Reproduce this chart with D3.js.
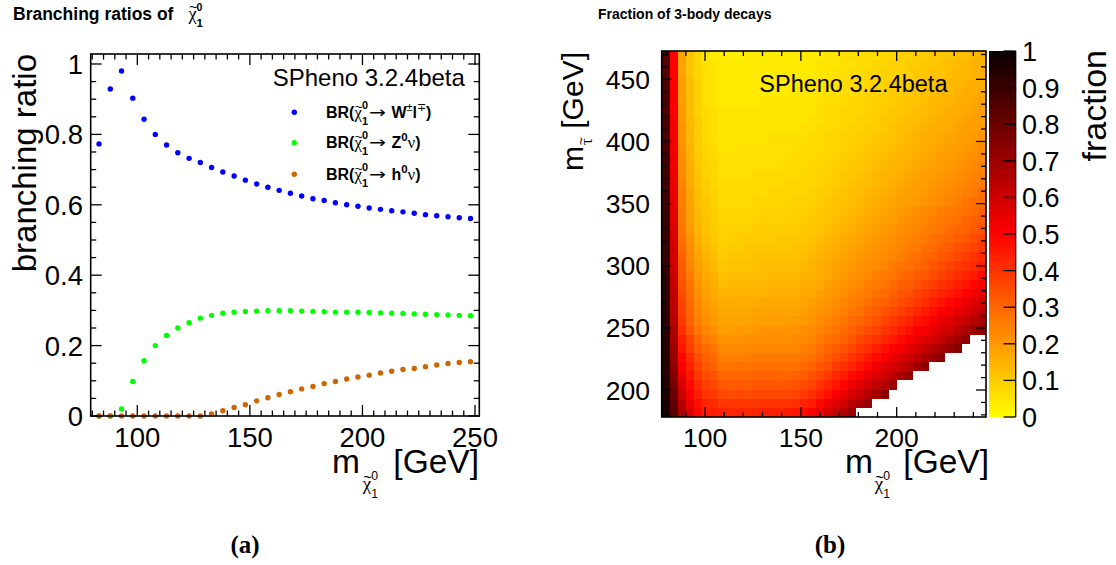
<!DOCTYPE html>
<html>
<head>
<meta charset="utf-8">
<script src="https://cdn.jsdelivr.net/npm/d3@7"></script>
<style>
  body { margin: 0; background: #fff; }
  svg { display: block; }
</style>
</head>
<body>
<svg id="fig" width="1116" height="565"></svg>
<script>
// ---------------- Left panel: branching ratios of the lightest neutralino ----------------
const mChi = [83, 88, 93, 98, 103, 108, 113, 118, 123, 128, 133, 138, 143, 148, 153, 158, 163,
              168, 173, 178, 183, 188, 193, 198, 203, 208, 213, 218, 223, 228, 233, 238, 243, 248];
const brWl = [0.773, 0.929, 0.980, 0.903, 0.843, 0.800, 0.770, 0.748, 0.732, 0.720, 0.706, 0.693,
              0.682, 0.670, 0.659, 0.650, 0.641, 0.633, 0.625, 0.617, 0.612, 0.606, 0.600, 0.596,
              0.591, 0.587, 0.583, 0.580, 0.576, 0.572, 0.569, 0.566, 0.563, 0.561];
const brZnu = [0, 0, 0.020, 0.098, 0.157, 0.200, 0.229, 0.250, 0.265, 0.278, 0.286, 0.292, 0.295,
               0.297, 0.298, 0.299, 0.299, 0.299, 0.298, 0.297, 0.296, 0.295, 0.295, 0.295, 0.294,
               0.293, 0.292, 0.291, 0.290, 0.289, 0.288, 0.287, 0.286, 0.285];
const brHnu = [0, 0, 0, 0, 0, 0, 0, 0, 0, 0, 0.006, 0.015, 0.024, 0.032, 0.043, 0.052, 0.061,
               0.069, 0.077, 0.084, 0.092, 0.098, 0.105, 0.111, 0.116, 0.122, 0.127, 0.132,
               0.135, 0.140, 0.145, 0.149, 0.152, 0.154];
const brDomainX = [79.3, 251.9];
const brDomainY = [0, 1.0284];
const brTicksX = [100, 150, 200, 250];
const brTicksY = [0, 0.2, 0.4, 0.6, 0.8, 1];
const brTickLabelsY = ["0", "0.2", "0.4", "0.6", "0.8", "1"];

// ---------------- Right panel: fraction of 3-body decays (TH2, 40 x 40 bins) ----------------
const mChiRange = [77.4, 246.6];     // x axis: neutralino mass [GeV]
const mStauRange = [178.3, 472.8];   // y axis: stau mass [GeV]
const nBinsX = 40, nBinsY = 40;
const fracTicksX = [100, 150, 200];
const fracTicksY = [200, 250, 300, 350, 400, 450];
const paletteTicks = [0, 0.1, 0.2, 0.3, 0.4, 0.5, 0.6, 0.7, 0.8, 0.9, 1];
const paletteTickLabels = ["0", "0.1", "0.2", "0.3", "0.4", "0.5", "0.6", "0.7", "0.8", "0.9", "1"];
// bin contents in percent, one string per stau-mass bin (lowest first), "-" = no point
const fraction3Body = [
  "96 84 68 57 49 45 44 43 42 43 42 43 44 44 44 45 46 48 51 54 58 62 66 70 - - - - - - - - - - - - - - - -",
  "96 82 65 54 47 43 42 39 39 39 39 39 40 40 40 40 41 43 45 49 53 56 59 64 68 71 - - - - - - - - - - - - - -",
  "95 80 61 51 44 40 39 36 35 36 35 36 36 36 36 36 37 39 41 44 47 51 54 58 61 65 69 73 - - - - - - - - - - - -",
  "95 78 58 48 42 38 36 33 32 33 32 33 33 33 33 33 34 35 37 40 43 46 49 53 56 59 63 66 70 - - - - - - - - - - -",
  "94 75 54 46 39 35 34 30 30 30 30 30 31 31 30 30 31 32 34 36 39 42 45 48 51 54 57 60 64 68 71 - - - - - - - - -",
  "94 73 51 43 37 33 31 27 27 28 27 28 28 28 28 28 28 29 31 33 35 38 41 43 46 49 53 56 58 62 65 69 72 - - - - - - -",
  "94 71 49 41 35 31 29 25 25 25 25 26 26 26 26 26 26 27 28 30 32 35 37 40 42 45 48 51 54 57 60 63 67 70 73 - - - - -",
  "94 70 46 38 32 29 27 23 23 23 23 24 24 24 24 24 24 25 26 28 30 32 34 36 39 41 44 47 50 52 55 58 61 65 68 71 74 - - -",
  "93 68 44 36 30 26 24 21 21 21 22 22 22 22 22 22 23 23 24 26 28 29 31 33 36 38 40 43 45 48 51 54 57 59 62 66 69 72 - -",
  "93 67 41 33 27 24 22 19 19 20 20 20 21 21 21 21 21 22 23 24 26 27 29 31 33 35 37 40 42 44 47 50 52 55 58 60 64 67 70 73",
  "93 65 39 31 25 22 20 18 18 18 18 19 19 19 19 19 20 20 21 23 24 25 27 29 30 32 34 37 39 41 43 46 48 51 54 56 59 62 65 68",
  "93 64 38 30 24 21 19 17 17 17 17 18 18 18 18 18 18 19 20 21 22 24 25 27 28 30 32 34 36 38 40 42 45 47 50 52 55 57 60 63",
  "92 63 37 29 23 20 18 16 16 16 16 16 17 17 17 17 17 18 19 20 21 22 24 25 26 28 30 31 33 35 37 39 41 44 46 49 51 54 56 58",
  "92 63 35 28 22 19 17 15 15 15 15 15 15 16 16 16 16 17 17 19 20 21 22 24 25 26 28 29 31 33 34 37 39 41 43 45 47 50 52 55",
  "92 62 34 27 21 18 16 13 14 14 14 14 14 15 15 15 15 16 16 17 19 20 21 22 23 25 26 27 29 31 32 34 36 38 40 42 44 46 49 51",
  "92 61 33 26 20 17 15 12 13 13 13 13 13 14 14 14 14 15 15 16 17 19 20 21 22 23 25 26 27 29 30 32 33 35 37 39 41 43 45 48",
  "91 60 32 24 19 16 14 11 12 12 12 12 13 13 13 13 13 14 15 16 17 18 19 20 21 22 23 24 26 27 28 30 31 33 35 37 39 40 42 44",
  "91 59 31 23 18 15 13 10 11 11 11 12 12 12 12 12 12 13 14 15 16 17 18 19 20 21 22 23 24 25 27 28 30 31 33 34 36 38 40 42",
  "91 59 29 22 17 14 12 10 10 10 11 11 11 11 11 11 12 12 13 14 15 16 17 18 19 20 21 22 23 24 25 26 28 29 31 32 34 35 37 39",
  "90 58 28 21 16 13 11 9 9 10 10 10 10 10 11 11 11 11 12 13 14 15 16 17 18 19 20 21 22 23 24 25 26 28 29 30 32 33 35 37",
  "90 57 27 20 15 12 10 9 9 9 9 10 10 10 10 10 10 11 11 12 13 14 15 16 17 18 19 20 21 22 23 24 25 26 27 29 30 31 33 34",
  "90 56 26 19 14 12 10 8 8 8 8 9 9 9 9 9 10 10 11 11 12 13 14 15 16 17 18 19 19 21 22 23 24 25 26 27 28 30 31 32",
  "89 56 26 19 14 11 10 8 8 8 8 8 9 9 9 9 9 9 10 11 12 12 13 14 15 16 17 18 19 20 21 22 23 24 25 26 27 28 29 31",
  "89 55 25 18 13 11 9 7 7 7 7 8 8 8 8 8 9 9 9 10 11 12 12 13 14 15 16 17 18 19 19 20 21 22 23 24 25 27 28 29",
  "89 55 25 18 13 10 9 7 7 7 7 7 7 8 8 8 8 8 9 10 10 11 12 13 13 14 15 16 17 18 19 19 20 21 22 23 24 25 26 28",
  "88 54 24 17 12 10 8 7 7 7 7 7 7 7 7 8 8 8 8 9 10 10 11 12 13 13 14 15 16 17 18 19 19 20 21 22 23 24 25 26",
  "88 54 23 16 12 9 8 6 6 6 6 7 7 7 7 7 7 8 8 9 9 10 11 11 12 13 14 15 15 16 17 18 19 19 20 21 22 23 24 25",
  "88 53 23 16 11 9 8 6 6 6 6 6 6 6 6 7 7 7 8 8 9 9 10 11 11 12 13 14 15 15 16 17 18 19 19 20 21 22 23 24",
  "88 53 22 15 11 8 7 6 6 6 6 6 6 6 6 6 7 7 7 8 8 9 10 10 11 12 12 13 14 15 15 16 17 18 19 19 20 21 22 23",
  "87 52 22 15 10 8 7 5 5 6 6 6 6 6 6 6 6 7 7 7 8 8 9 10 10 11 12 12 13 14 15 15 16 17 18 19 19 20 21 22",
  "87 52 21 14 10 7 6 5 5 5 5 5 5 6 6 6 6 6 7 7 8 8 9 9 10 10 11 12 12 13 14 15 16 16 17 18 19 19 20 21",
  "87 52 21 14 10 7 6 5 5 5 5 5 5 5 5 5 5 6 6 7 7 8 8 9 9 10 10 11 12 13 13 14 15 16 16 17 18 19 19 20",
  "87 52 20 14 10 7 6 5 5 5 5 5 5 5 5 5 5 5 6 6 7 7 8 8 9 9 10 11 11 12 13 13 14 15 16 16 17 18 19 19",
  "86 51 20 13 9 7 6 5 5 5 5 5 5 5 5 5 5 5 5 6 7 7 8 8 8 9 10 10 11 11 12 13 13 14 15 16 16 17 18 19",
  "86 51 19 13 9 6 5 4 4 4 4 4 5 5 5 5 5 5 5 6 6 7 7 8 8 9 9 10 10 11 12 12 13 14 14 15 16 16 17 18",
  "86 51 19 13 9 6 5 4 4 4 4 4 4 4 4 4 5 5 5 5 6 6 7 7 8 8 9 9 10 10 11 12 12 13 14 14 15 16 16 17",
  "86 51 19 13 9 6 5 4 4 4 4 4 4 4 4 4 4 5 5 5 6 6 7 7 7 8 8 9 9 10 10 11 12 12 13 14 14 15 16 16",
  "85 50 18 12 8 6 5 4 4 4 4 4 4 4 4 4 4 4 4 5 5 6 6 7 7 8 8 9 9 9 10 11 11 12 12 13 14 14 15 16",
  "85 50 18 12 8 6 5 4 4 4 4 4 4 4 4 4 4 4 4 5 5 5 6 6 7 7 8 8 9 9 10 10 11 11 12 13 13 14 15 15",
  "85 50 18 12 8 5 4 4 3 3 4 4 4 4 4 4 4 4 4 4 5 5 6 6 7 7 7 8 8 9 9 10 10 11 11 12 13 13 14 15"
];

// ---------------- helpers ----------------
const SANS = '"Liberation Sans", Arial, Helvetica, sans-serif';
const SERIF = '"Liberation Serif", "Times New Roman", serif';
const NBSP = "\u00a0";
const svg = d3.select("#fig");

// Lays out a run of text pieces (with sub/superscripts and tildes) left to right.
function textRun(parent, pieces, base) {
  const g = parent.append("g");
  let cx = 0;
  const style = (sel, p, fs) => sel
    .style("font-family", p.ff || base.ff || SANS)
    .style("font-weight", p.fw || base.fw || "normal")
    .style("font-size", fs + "px")
    .attr("fill", "#000");
  for (const p of pieces) {
    const fs = p.fs || base.fs;
    if (p.sup != null || p.sub != null) {
      let w = 0;
      if (p.sup != null) {
        const t = style(g.append("text"), p, p.supFs || fs).attr("x", cx).attr("y", p.supDy).text(p.sup);
        w = Math.max(w, t.node().getComputedTextLength());
      }
      if (p.sub != null) {
        const t = style(g.append("text"), p, fs).attr("x", cx).attr("y", p.subDy).text(p.sub);
        w = Math.max(w, t.node().getComputedTextLength());
      }
      cx += w + (p.gap || 0);
    } else {
      const dy = p.dy || 0;
      const t = style(g.append("text"), p, fs).text(p.t);
      let w;
      if (p.stretch) {
        // widen a single glyph horizontally (long arrow), using its inked width
        const bb = t.node().getBBox();
        const sx = p.stretch / bb.width;
        t.attr("transform", `translate(${cx - bb.x * sx},${dy}) scale(${sx},1)`);
        w = p.stretch;
      } else {
        t.attr("x", cx).attr("y", dy);
        w = t.node().getComputedTextLength();
      }
      if (p.tilde) {
        style(g.append("text"), { ff: SANS, fw: "normal" }, fs * 0.8)
          .attr("x", cx + w * 0.58).attr("y", dy - fs * 0.42)
          .attr("text-anchor", "middle").text("~");
      }
      cx += w + (p.gap || 0);
    }
  }
  return { g, width: cx };
}
function place(run, x, y, anchor, rotate) {
  const off = anchor === "end" ? -run.width : anchor === "middle" ? -run.width / 2 : 0;
  run.g.attr("transform", `translate(${x},${y}) rotate(${rotate || 0}) translate(${off},0)`);
}
function label(parent, x, y, str, fs, anchor, extra) {
  const t = parent.append("text").attr("x", x).attr("y", y).attr("text-anchor", anchor || "start")
    .style("font-family", SANS).style("font-size", fs + "px").attr("fill", "#000").text(str);
  if (extra) extra(t);
  return t;
}
// Inward ticks on all four sides of a frame.
function frameTicks(g, x, y, xMaj, xMin, yMaj, yMin, lMaj, lMin) {
  const [xa, xb] = x.range();
  const [ya, yb] = y.range();   // ya = bottom, yb = top
  const segs = [];
  xMaj.forEach(v => segs.push([x(v), ya, x(v), ya - lMaj], [x(v), yb, x(v), yb + lMaj]));
  xMin.forEach(v => segs.push([x(v), ya, x(v), ya - lMin], [x(v), yb, x(v), yb + lMin]));
  yMaj.forEach(v => segs.push([xa, y(v), xa + lMaj, y(v)], [xb, y(v), xb - lMaj, y(v)]));
  yMin.forEach(v => segs.push([xa, y(v), xa + lMin, y(v)], [xb, y(v), xb - lMin, y(v)]));
  g.selectAll(null).data(segs).join("line")
    .attr("x1", d => d[0]).attr("y1", d => d[1]).attr("x2", d => d[2]).attr("y2", d => d[3])
    .attr("stroke", "#000").attr("stroke-width", 1.3);
  g.append("rect").attr("x", xa).attr("y", yb).attr("width", xb - xa).attr("height", ya - yb)
    .attr("fill", "none").attr("stroke", "#000").attr("stroke-width", 1.6);
}
// neutralino symbol: chi with tilde, subscript 1 and superscript 0
function chiPieces(fs, bold, dyMain, opt) {
  const o = opt || {};
  const s = fs * (o.scriptScale || 0.68);
  return [
    { t: "χ", ff: SERIF, fw: "normal", fs: fs * 1.05, tilde: true, dy: dyMain, gap: o.gapChi || 0 },
    { sup: "0", sub: "1", fs: s, supFs: o.supFs || s, fw: bold ? "bold" : "normal",
      supDy: dyMain - fs * (o.supRaise || 0.58), subDy: dyMain + fs * 0.45, gap: o.gapAfter || 0 }
  ];
}

// ================= LEFT PANEL =================
const gL = svg.append("g");
const xL = d3.scaleLinear().domain(brDomainX).range([90.7, 479.3]);
const yL = d3.scaleLinear().domain(brDomainY).range([416, 54]);

// title
place(textRun(gL, [
  { t: "Branching ratios of", gap: 15 },
  ...chiPieces(17.5, true, 0, { supRaise: 0.5, supFs: 10.5, scriptScale: 0.66 })
], { fs: 17.5, fw: "bold" }), 13, 19.5, "start");

// data points
const series = [
  { values: brWl, color: "#0000ff" },
  { values: brZnu, color: "#00ff00" },
  { values: brHnu, color: "#cc6600" }
];
series.forEach(s => {
  gL.append("g").selectAll("circle").data(mChi).join("circle")
    .attr("cx", d => xL(d)).attr("cy", (d, i) => yL(s.values[i]))
    .attr("r", 2.7).attr("fill", s.color);
});

// frame + ticks
frameTicks(gL, xL, yL,
  brTicksX, d3.range(80, 252, 5).filter(v => v % 50 !== 0),
  brTicksY, d3.range(0, 1.03, 0.05).filter(v => Math.abs(v * 5 - Math.round(v * 5)) > 1e-6),
  11, 5.5);

// tick labels
brTicksY.forEach((v, i) => label(gL, 83, yL(v) + 10, brTickLabelsY[i], 27.5, "end"));
brTicksX.forEach(v => label(gL, xL(v), 447, String(v), 27.5, "middle"));

// axis titles
label(gL, 0, 0, "branching ratio", 33, "end",
  t => t.attr("transform", `translate(36,54) rotate(-90)`));
place(textRun(gL, [
  { t: "m", gap: 3 },
  ...chiPieces(18, false, 17, { gapAfter: 6 }),
  { t: NBSP + "[GeV]" }
], { fs: 33.5 }), 479, 473, "end");

// SPheno tag
label(gL, 272.7, 86, "SPheno 3.2.4beta", 24, "start");

// legend
const arrow = { t: "→", ff: '"DejaVu Sans", sans-serif', fw: "normal", fs: 16, stretch: 17, gap: 1 };
const legendRows = [
  { color: "#0000ff", y: 112.3, tail: [
      arrow,
      { t: NBSP + "W", fw: "bold" }, { sup: "±", fs: 11, fw: "normal", supDy: -6.5 },
      { t: "l", fw: "bold" }, { sup: "∓", fs: 11, fw: "normal", supDy: -6.5 },
      { t: ")", fw: "bold" }] },
  { color: "#00ff00", y: 142.7, tail: [
      arrow,
      { t: NBSP + "Z", fw: "bold" }, { sup: "0", fs: 11.5, fw: "bold", supDy: -7 },
      { t: "ν", ff: SERIF, fw: "normal", fs: 17 }, { t: ")", fw: "bold" }] },
  { color: "#cc6600", y: 174.3, tail: [
      arrow,
      { t: NBSP + "h", fw: "bold" }, { sup: "0", fs: 11.5, fw: "bold", supDy: -7 },
      { t: "ν", ff: SERIF, fw: "normal", fs: 17 }, { t: ")", fw: "bold" }] }
];
legendRows.forEach(r => {
  gL.append("circle").attr("cx", 294.3).attr("cy", r.y).attr("r", 2.7).attr("fill", r.color);
  place(textRun(gL, [{ t: "BR(", fw: "bold" }, ...chiPieces(16, true, 0, { gapAfter: 1 }), ...r.tail],
    { fs: 16, fw: "bold" }), 326, r.y + 5.5, "start");
});

// ================= RIGHT PANEL =================
const gR = svg.append("g");
const xR = d3.scaleLinear().domain(mChiRange).range([661.7, 986]);
const yR = d3.scaleLinear().domain(mStauRange).range([417, 51]);
const color = d3.scaleLinear().domain([0, 0.5, 1]).range(["#ffff00", "#ff0000", "#080000"]).clamp(true);

place(textRun(gR, [{ t: "Fraction of 3-body decays" }], { fs: 14, fw: "bold" }), 598, 18.5, "start");

// histogram cells
const binW = (mChiRange[1] - mChiRange[0]) / nBinsX;
const binH = (mStauRange[1] - mStauRange[0]) / nBinsY;
const cells = [];
fraction3Body.forEach((row, j) => {
  row.trim().split(/\s+/).forEach((s, i) => {
    if (s !== "-") cells.push({ i, j, v: +s / 100 });
  });
});
gR.append("g").attr("shape-rendering", "crispEdges")
  .selectAll("rect").data(cells).join("rect")
  .attr("x", d => xR(mChiRange[0] + d.i * binW))
  .attr("width", d => xR(mChiRange[0] + (d.i + 1) * binW) - xR(mChiRange[0] + d.i * binW))
  .attr("y", d => yR(mStauRange[0] + (d.j + 1) * binH))
  .attr("height", d => yR(mStauRange[0] + d.j * binH) - yR(mStauRange[0] + (d.j + 1) * binH))
  .attr("fill", d => color(d.v));

frameTicks(gR, xR, yR,
  fracTicksX, d3.range(80, 246, 10).filter(v => v % 50 !== 0),
  fracTicksY, d3.range(180, 472, 10).filter(v => v % 50 !== 0),
  10, 5);

fracTicksY.forEach(v => label(gR, 650, yR(v) + 9.5, String(v), 26.5, "end"));
fracTicksX.forEach(v => label(gR, xR(v), 447, String(v), 26.5, "middle"));

label(gR, 759.3, 91.7, "SPheno 3.2.4beta", 23.5, "start");

// axis titles
place(textRun(gR, [
  { t: "m", gap: 2 },
  ...chiPieces(18, false, 17, { gapAfter: 4 }),
  { t: NBSP + "[GeV]" }
], { fs: 33.5 }), 989, 473, "end");
place(textRun(gR, [
  { t: "m", gap: 1 },
  { t: "τ", ff: SERIF, fs: 17, dy: 9, tilde: true, gap: 1 },
  { t: NBSP + "[GeV]" }
], { fs: 30 }), 583, 52, "end", -90);

// colour palette
const zScale = d3.scaleLinear().domain([0, 1]).range([417, 51]);
const pal = d3.range(0, 1, 0.01);
gR.append("g").attr("shape-rendering", "crispEdges")
  .selectAll("rect").data(pal).join("rect")
  .attr("x", 989).attr("width", 26.7)
  .attr("y", d => zScale(d + 0.01)).attr("height", d => zScale(d) - zScale(d + 0.01))
  .attr("fill", d => color(d + 0.005));
gR.append("line").attr("x1", 1015.7).attr("x2", 1015.7).attr("y1", zScale(0)).attr("y2", zScale(1))
  .attr("stroke", "#000").attr("stroke-width", 1.3);
gR.selectAll(null).data(paletteTicks).join("line")
  .attr("x1", 1015.7).attr("x2", 1003.5).attr("y1", d => zScale(d)).attr("y2", d => zScale(d))
  .attr("stroke", "#000").attr("stroke-width", 1.3);
paletteTicks.forEach((v, i) => label(gR, 1022, zScale(v) + 10, paletteTickLabels[i], 27, "start"));
label(gR, 0, 0, "fraction", 34, "end", t => t.attr("transform", "translate(1106,50) rotate(-90)"));

// ================= sub-figure captions =================
[["(a)", 245], ["(b)", 830]].forEach(([s, x]) => {
  svg.append("text").attr("x", x).attr("y", 552.5).attr("text-anchor", "middle")
    .style("font-family", SERIF).style("font-weight", "bold").style("font-size", "25px").text(s);
});
</script>
</body>
</html>
